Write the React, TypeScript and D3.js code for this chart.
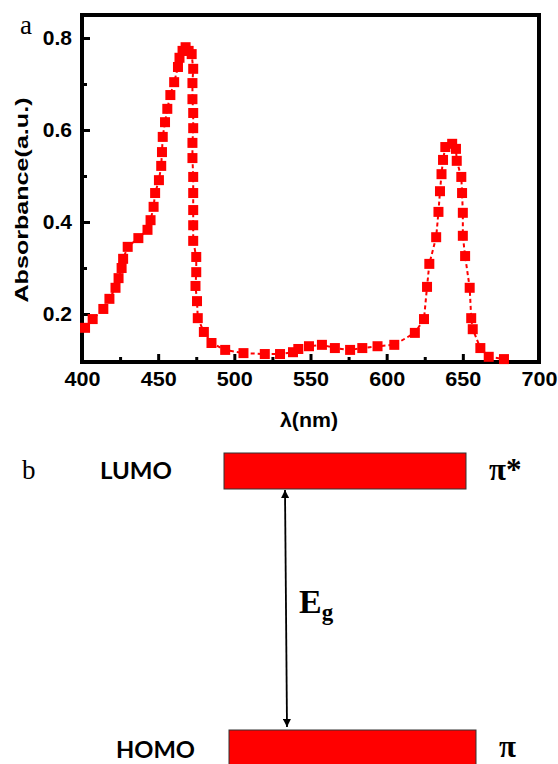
import React, { useEffect, useRef } from 'react';
import * as d3 from 'd3';

// absorption spectrum
const wavelength = [
  402, 407, 414, 418, 422, 424, 426, 427, 430, 437,
  443, 445, 447, 448, 450.5, 452, 452.5, 453, 454.5, 456,
  458, 460.5, 463, 464, 466, 468, 470, 472, 473, 472.5,
  472.5, 473, 473, 472.5, 472.5, 473, 473, 473, 473, 473,
  475, 475, 474.5, 475.5, 476, 480, 485, 494, 506, 520,
  530, 538.5, 542, 549, 557.5, 566, 576, 584, 594, 605,
  618.5, 624.5, 626.5, 628, 632.5, 634, 635, 636, 637, 638.5,
  643, 645.5, 646, 649, 649.5, 650, 650, 651.5, 654.5, 655.5,
  656.5, 661.5, 667, 677,
];
const absorbance = [
  0.170, 0.189, 0.211, 0.233, 0.257, 0.278, 0.300, 0.320, 0.346, 0.365,
  0.383, 0.404, 0.433, 0.463, 0.491, 0.522, 0.552, 0.585, 0.617, 0.646,
  0.676, 0.704, 0.737, 0.757, 0.772, 0.780, 0.772, 0.765, 0.733, 0.702,
  0.667, 0.637, 0.604, 0.572, 0.539, 0.498, 0.463, 0.426, 0.393, 0.359,
  0.324, 0.291, 0.261, 0.228, 0.191, 0.161, 0.137, 0.122, 0.115, 0.113,
  0.113, 0.117, 0.124, 0.130, 0.133, 0.126, 0.122, 0.126, 0.130, 0.133,
  0.159, 0.189, 0.259, 0.309, 0.367, 0.422, 0.467, 0.504, 0.535, 0.563,
  0.570, 0.559, 0.533, 0.498, 0.463, 0.420, 0.370, 0.326, 0.257, 0.191,
  0.167, 0.126, 0.107, 0.102,
];
const xTicks = [400, 450, 500, 550, 600, 650, 700];
const xMinorTicks = [425, 475, 525, 575, 625, 675];
const yTicks = [0.2, 0.4, 0.6, 0.8];
const yMinorTicks = [0.3, 0.5, 0.7];

// energy diagram
const levelNames = ['LUMO', 'HOMO'];
const orbitalNames = ['π*', 'π'];
const levelEnergy = [1, 0];

const RED = '#ff0000';
const SANS = '"Liberation Sans", Arial, sans-serif';
const LABEL = 'Lato, "Open Sans", sans-serif';
const SERIF = '"Liberation Serif", "Times New Roman", serif';

const App = () => {
  const svgRef = useRef<SVGSVGElement>(null);

  useEffect(() => {
    const W = 558, H = 764;
    const svg = d3.select(svgRef.current);
    svg.selectAll('*').remove();

    // ---------- panel a ----------
    const plot = { left: 82, right: 539, top: 15, bottom: 362 };
    const x = d3.scaleLinear().domain([400, 700]).range([plot.left, plot.right]);
    const y = d3.scaleLinear().domain([0.0957, 0.85]).range([plot.bottom, plot.top]);

    const data = wavelength.map((w, i) => ({ w, a: absorbance[i] }));

    // x axis
    const gx = svg.append('g')
      .attr('transform', `translate(0,${plot.bottom})`)
      .call(d3.axisBottom(x).tickValues(xTicks).tickSize(-8).tickPadding(9).tickFormat(d3.format('d')));
    gx.select('.domain').remove();
    gx.selectAll('line').attr('stroke', '#000').attr('stroke-width', 3);
    gx.selectAll('text')
      .attr('font-family', SANS).attr('font-weight', 'bold').attr('font-size', 21).attr('fill', '#000')
      .attr('textLength', 36).attr('lengthAdjust', 'spacingAndGlyphs');
    svg.append('g')
      .attr('transform', `translate(0,${plot.bottom})`)
      .call(d3.axisBottom(x).tickValues(xMinorTicks).tickSize(-5).tickFormat(() => ''))
      .call(g => g.select('.domain').remove())
      .selectAll('line').attr('stroke', '#000').attr('stroke-width', 3);

    // y axis
    const gy = svg.append('g')
      .attr('transform', `translate(${plot.left},0)`)
      .call(d3.axisLeft(y).tickValues(yTicks).tickSize(-8).tickPadding(10).tickFormat(d3.format('.1f')));
    gy.select('.domain').remove();
    gy.selectAll('line').attr('stroke', '#000').attr('stroke-width', 3);
    gy.selectAll('text')
      .attr('font-family', SANS).attr('font-weight', 'bold').attr('font-size', 21).attr('fill', '#000');
    svg.append('g')
      .attr('transform', `translate(${plot.left},0)`)
      .call(d3.axisLeft(y).tickValues(yMinorTicks).tickSize(-5).tickFormat(() => ''))
      .call(g => g.select('.domain').remove())
      .selectAll('line').attr('stroke', '#000').attr('stroke-width', 3);

    // frame
    svg.append('rect')
      .attr('x', plot.left).attr('y', plot.top)
      .attr('width', plot.right - plot.left).attr('height', plot.bottom - plot.top)
      .attr('fill', 'none').attr('stroke', '#000').attr('stroke-width', 4);

    // dashed line + square markers
    const line = d3.line<{ w: number; a: number }>().x(d => x(d.w)).y(d => y(d.a));
    svg.append('path')
      .datum(data)
      .attr('d', line)
      .attr('fill', 'none')
      .attr('stroke', RED)
      .attr('stroke-width', 2)
      .attr('stroke-dasharray', '4,3');
    const s = 10;
    svg.append('g').selectAll('rect')
      .data(data)
      .join('rect')
      .attr('x', d => x(d.w) - s / 2)
      .attr('y', d => y(d.a) - s / 2)
      .attr('width', s)
      .attr('height', s)
      .attr('fill', RED);

    // axis titles
    svg.append('text')
      .attr('transform', 'translate(28,200) rotate(-90)')
      .attr('text-anchor', 'middle')
      .attr('font-family', SANS).attr('font-weight', 'bold').attr('font-size', 19)
      .attr('textLength', 205).attr('lengthAdjust', 'spacingAndGlyphs')
      .text('Absorbance(a.u.)');
    svg.append('text')
      .attr('x', 309).attr('y', 427)
      .attr('text-anchor', 'middle')
      .attr('font-family', SANS).attr('font-weight', 'bold').attr('font-size', 21)
      .attr('textLength', 58).attr('lengthAdjust', 'spacingAndGlyphs')
      .text('λ(nm)');
    svg.append('text')
      .attr('x', 20).attr('y', 34)
      .attr('font-family', SERIF).attr('font-size', 27)
      .text('a');

    // ---------- panel b ----------
    const yE = d3.scaleLinear().domain([0, 1]).range([730, 453]);
    const barH = 36;
    const barX = [[224, 466], [229, 476]];

    svg.append('text')
      .attr('x', 22).attr('y', 479)
      .attr('font-family', SERIF).attr('font-size', 27)
      .text('b');

    levelNames.forEach((name, i) => {
      const top = yE(levelEnergy[i]);
      svg.append('rect')
        .attr('x', barX[i][0]).attr('y', top)
        .attr('width', barX[i][1] - barX[i][0]).attr('height', barH + 10 * i)
        .attr('fill', RED).attr('stroke', '#333').attr('stroke-width', 1);
      svg.append('text')
        .attr('x', i === 0 ? 100 : 116).attr('y', i === 0 ? 479 : 758)
        .attr('font-family', LABEL).attr('font-weight', 'bold').attr('font-size', 23)
        .attr('textLength', i === 0 ? 72 : 79).attr('lengthAdjust', 'spacingAndGlyphs')
        .text(name);
      svg.append('text')
        .attr('x', barX[i][1] + 23).attr('y', i === 0 ? 480 : 757)
        .attr('font-family', SERIF).attr('font-weight', 'bold').attr('font-size', 31)
        .text(orbitalNames[i]);
    });

    // band gap arrow
    const defs = svg.append('defs');
    ['start', 'end'].forEach(k => {
      defs.append('marker')
        .attr('id', `arr-${k}`)
        .attr('viewBox', '0 0 10 10')
        .attr('refX', 10).attr('refY', 5)
        .attr('markerWidth', 8).attr('markerHeight', 8)
        .attr('markerUnits', 'userSpaceOnUse')
        .attr('orient', k === 'start' ? 'auto-start-reverse' : 'auto')
        .append('path')
        .attr('d', 'M0,0 L10,5 L0,10 z')
        .attr('fill', '#000');
    });
    svg.append('line')
      .attr('x1', 285).attr('y1', yE(levelEnergy[0]) + barH + 1)
      .attr('x2', 287).attr('y2', yE(levelEnergy[1]) - 3)
      .attr('stroke', '#000').attr('stroke-width', 1.8)
      .attr('marker-start', 'url(#arr-start)')
      .attr('marker-end', 'url(#arr-end)');

    const eg = svg.append('text')
      .attr('x', 299).attr('y', 613)
      .attr('font-family', SERIF).attr('font-weight', 'bold').attr('font-size', 34);
    eg.append('tspan').text('E');
    eg.append('tspan').attr('font-size', 23).attr('dy', 7).text('g');

    svg.attr('width', W).attr('height', H);
  }, []);

  return (
    <div style={{ position: 'absolute', left: 0, top: 0, background: '#fff' }}>
      <svg ref={svgRef} width={558} height={764} style={{ display: 'block' }} />
    </div>
  );
};

export default App;
